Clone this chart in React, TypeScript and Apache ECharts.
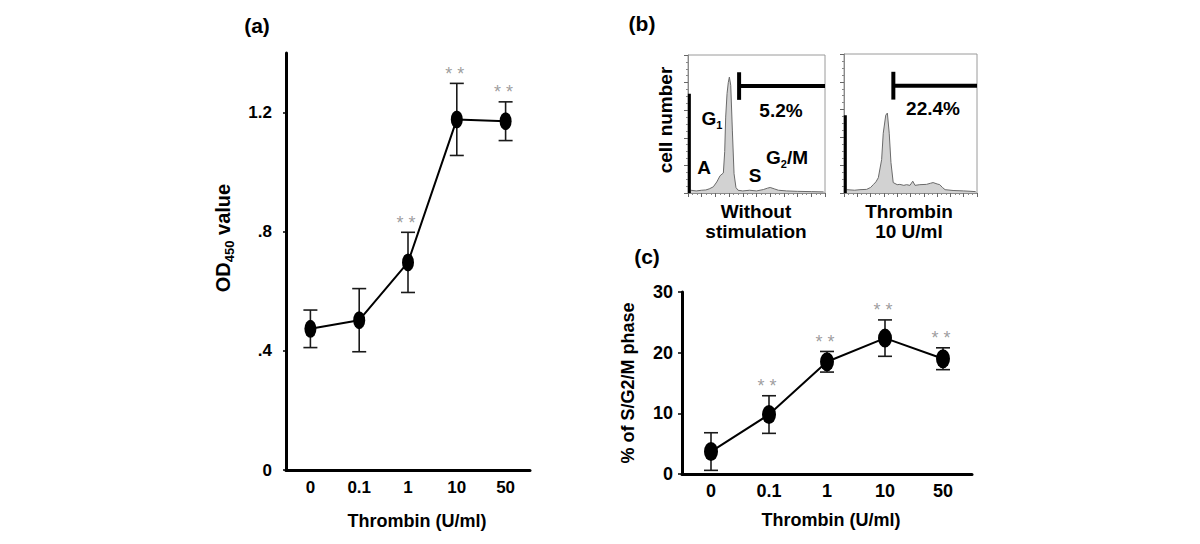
import React, { useEffect, useRef } from "react";
import * as echarts from "echarts";

const FONT = "Liberation Sans, Arial, Helvetica, sans-serif";

// ---- panel (a): cell proliferation (OD450) ----
const categories = ["0", "0.1", "1", "10", "50"];
const odMean = [0.474, 0.503, 0.697, 1.177, 1.171];
const odErr = [0.063, 0.106, 0.101, 0.121, 0.065];
const odSig = ["", "", "* *", "* *", "* *"];
const odTickValues = [0, 0.4, 0.8, 1.2];
const odTickLabels = ["0", ".4", ".8", "1.2"];

// ---- panel (c): % of S/G2/M phase ----
const sPhaseMean = [3.7, 9.8, 18.5, 22.4, 19.0];
const sPhaseErr = [3.1, 3.1, 1.7, 3.0, 1.8];
const sPhaseSig = ["", "* *", "* *", "* *", "* *"];

// ---- panel (b): DNA content histograms [channel, count] ----
const histWithout = [
  [2, 2], [6, 1.5], [10, 2], [13, 2.2], [15.5, 3], [18.5, 4.5], [21, 8], [23.4, 12.5],
  [25.8, 14.5], [26.8, 30], [27.5, 55], [28.5, 72], [29.4, 80], [30.2, 84], [31.2, 78],
  [32.4, 45], [33.6, 14], [35, 4], [36.5, 2], [40, 1.5], [45, 2], [50, 1.5], [55, 2.5],
  [58, 3.5], [60, 4], [63, 3], [66, 2], [72, 1.5], [80, 1.2], [90, 1], [99, 0.8],
];
const histThrombin = [
  [2, 2.4], [8, 2], [12, 2.4], [17, 2.6], [20, 4], [22, 6], [24, 8], [25.8, 11],
  [28.3, 24], [29.5, 43], [31.4, 56], [32.6, 57.5], [34, 43], [35.3, 22], [37, 7.5],
  [40, 6], [42, 6.2], [45, 5.5], [47, 6], [49.6, 5.5], [51.7, 8.5], [53.4, 5.5], [57, 6],
  [62, 6.2], [65, 7], [67, 7.5], [70, 6.5], [72, 6], [74, 4], [76, 2.4], [82, 1.8],
  [90, 1.5], [99, 1],
];
const debrisCounts = [72, 56];
const gateStart = [37.3, 37.1];
const gateLevel = [77.5, 77.2];
const gatePercent = ["5.2%", "22.4%"];

const ellipse = "path://M0 -10A10 10 0 1 1 0 10A10 10 0 1 1 0 -10Z";

function errorRenderer(capHalf: number) {
  return (params: any, api: any) => {
    const x = api.value(0);
    const lo = api.coord([x, api.value(1)]);
    const hi = api.coord([x, api.value(2)]);
    const style = { stroke: "#1a1a1a", lineWidth: 1.6, fill: null };
    return {
      type: "group",
      children: [
        { type: "line", shape: { x1: hi[0], y1: hi[1], x2: lo[0], y2: lo[1] }, style },
        { type: "line", shape: { x1: hi[0] - capHalf, y1: hi[1], x2: hi[0] + capHalf, y2: hi[1] }, style },
        { type: "line", shape: { x1: lo[0] - capHalf, y1: lo[1], x2: lo[0] + capHalf, y2: lo[1] }, style },
      ],
    };
  };
}

function boldText(text: string, x: number, y: number, size: number, extra: any = {}) {
  return {
    type: "text",
    x,
    y,
    ...extra,
    style: {
      text,
      fill: "#000",
      fontSize: size,
      fontWeight: "bold",
      fontFamily: FONT,
      textAlign: "center",
      textVerticalAlign: "middle",
      align: "center",
      verticalAlign: "middle",
      ...(extra.style || {}),
    },
  };
}

function subText(main: string, sub: string, rest: string, x: number, y: number, size: number, subSize: number, rotation = 0) {
  return {
    type: "text",
    x,
    y,
    rotation,
    style: {
      text: `{m|${main}}{s|${sub}}{m|${rest}}`,
      fill: "#000",
      textAlign: "center",
      textVerticalAlign: "middle",
      align: "center",
      verticalAlign: "middle",
      rich: {
        m: { fontSize: size, fontWeight: "bold", fontFamily: FONT, fill: "#000", color: "#000", lineHeight: size + 6, verticalAlign: "middle" },
        s: { fontSize: subSize, fontWeight: "bold", fontFamily: FONT, fill: "#000", color: "#000", verticalAlign: "bottom" },
      },
    },
  };
}

function histAxis(gridIndex: number, interval: number, minorSplit: number) {
  return {
    type: "value",
    gridIndex,
    min: 0,
    max: 100,
    interval,
    axisLine: { show: true, lineStyle: { color: "#8a8a8a", width: 1 } },
    axisTick: { show: true, length: 4, lineStyle: { color: "#666", width: 1 } },
    minorTick: { show: true, splitNumber: minorSplit, length: 2, lineStyle: { color: "#888", width: 1 } },
    axisLabel: { show: false },
    splitLine: { show: false },
  };
}

function histSeries(idx: number, data: number[][]) {
  const axes = { xAxisIndex: idx, yAxisIndex: idx };
  const g = idx - 2;
  return [
    {
      type: "line",
      ...axes,
      data,
      showSymbol: false,
      symbol: "none",
      lineStyle: { color: "#6a6a6a", width: 1 },
      areaStyle: { color: "#d2d2d2", opacity: 1 },
      z: 2,
    },
    {
      type: "line",
      ...axes,
      data: [[1, 0], [1, debrisCounts[g]]],
      symbol: "none",
      lineStyle: { color: "#000", width: 3 },
      z: 3,
    },
    {
      type: "line",
      ...axes,
      data: [[gateStart[g], gateLevel[g] - 10], [gateStart[g], gateLevel[g] + 10]],
      symbol: "none",
      lineStyle: { color: "#000", width: 4 },
      z: 3,
    },
    {
      type: "line",
      ...axes,
      data: [[gateStart[g], gateLevel[g]], [100, gateLevel[g]]],
      symbol: "none",
      lineStyle: { color: "#000", width: 4 },
      z: 3,
    },
  ];
}

function meanPanel(idx: number, mean: number[], err: number[], sig: string[], symbolSize: number[], capHalf: number) {
  const axes = { xAxisIndex: idx, yAxisIndex: idx };
  return [
    {
      type: "custom",
      ...axes,
      renderItem: errorRenderer(capHalf),
      encode: { x: 0, y: [1, 2] },
      data: mean.map((m, i) => [i, m - err[i], m + err[i]]),
      z: 2,
    },
    {
      type: "line",
      ...axes,
      data: mean,
      symbol: ellipse,
      symbolSize,
      showAllSymbol: true,
      lineStyle: { color: "#000", width: 2 },
      itemStyle: { color: "#000" },
      z: 3,
    },
    {
      type: "scatter",
      ...axes,
      data: mean
        .map((m, i) => ({ value: [i, m + err[i]], sig: sig[i] }))
        .filter((d) => d.sig !== ""),
      symbolSize: 1,
      itemStyle: { color: "rgba(0,0,0,0)" },
      label: {
        show: true,
        position: "top",
        distance: 0,
        offset: [-2, 0],
        formatter: (p: any) => p.data.sig,
        color: "#858585",
        fontSize: 18,
        fontFamily: FONT,
      },
      z: 4,
    },
  ];
}

export default function App() {
  const ref = useRef<HTMLDivElement>(null);

  useEffect(() => {
    if (!ref.current) return;
    const chart = echarts.init(ref.current, null, { renderer: "svg" });
    const axisLineStyle = { color: "#000", width: 3 };
    const tickLabel = (size: number) => ({ fontSize: size, fontWeight: "bold", color: "#000", fontFamily: FONT });
    const nameStyle = { fontSize: 18, fontWeight: "bold", color: "#000", fontFamily: FONT };

    const option: any = {
      animation: false,
      backgroundColor: "#fff",
      textStyle: { fontFamily: FONT },
      grid: [
        { left: 286, right: 670, top: 53, bottom: 74 },
        { left: 682, right: 228, top: 292, bottom: 70 },
        { left: 688, top: 55, width: 137, height: 138, show: true, borderColor: "#9a9a9a", borderWidth: 1 },
        { left: 844, top: 54, width: 133, height: 139, show: true, borderColor: "#9a9a9a", borderWidth: 1 },
      ],
      xAxis: [
        {
          type: "category",
          gridIndex: 0,
          data: categories,
          axisLine: { lineStyle: axisLineStyle },
          axisTick: { show: false },
          axisLabel: { ...tickLabel(17), margin: 9 },
          name: "Thrombin (U/ml)",
          nameLocation: "middle",
          nameGap: 42,
          nameTextStyle: { ...nameStyle, padding: [0, 0, 0, 18] },
        },
        {
          type: "category",
          gridIndex: 1,
          data: categories,
          axisLine: { lineStyle: axisLineStyle },
          axisTick: { show: false },
          axisLabel: { ...tickLabel(18), margin: 8 },
          name: "Thrombin (U/ml)",
          nameLocation: "middle",
          nameGap: 37,
          nameTextStyle: { ...nameStyle, padding: [0, 0, 0, 8] },
        },
        histAxis(2, 10, 3),
        histAxis(3, 10, 3),
      ],
      yAxis: [
        {
          type: "value",
          gridIndex: 0,
          min: 0,
          max: 1.4,
          interval: 0.4,
          axisLine: { show: true, lineStyle: axisLineStyle },
          axisTick: { show: true, length: 3, lineStyle: { color: "#000", width: 1.5 } },
          splitLine: { show: false },
          axisLabel: {
            ...tickLabel(17),
            margin: 14,
            showMaxLabel: false,
            formatter: (v: number) => {
              const i = odTickValues.findIndex((t) => Math.abs(t - v) < 1e-6);
              return i >= 0 ? odTickLabels[i] : "";
            },
          },
        },
        {
          type: "value",
          gridIndex: 1,
          min: 0,
          max: 30,
          interval: 10,
          axisLine: { show: true, lineStyle: axisLineStyle },
          axisTick: { show: true, length: 4, lineStyle: { color: "#000", width: 1.5 } },
          splitLine: { show: false },
          axisLabel: { ...tickLabel(18), margin: 9 },
          name: "% of S/G2/M phase",
          nameLocation: "middle",
          nameRotate: 90,
          nameGap: 45,
          nameTextStyle: nameStyle,
        },
        histAxis(2, 20, 4),
        histAxis(3, 20, 4),
      ],
      series: [
        ...meanPanel(0, odMean, odErr, odSig, [12, 18], 7),
        ...meanPanel(1, sPhaseMean, sPhaseErr, sPhaseSig, [14, 19], 7),
        ...histSeries(2, histWithout),
        ...histSeries(3, histThrombin),
      ],
      graphic: [
        boldText("(a)", 257, 25, 21),
        boldText("(b)", 642, 23, 21),
        boldText("(c)", 647, 256, 21),
        subText("OD", "450", " value", 223, 238, 20, 13, Math.PI / 2),
        boldText("cell number", 665, 120, 19, { rotation: Math.PI / 2 }),
        boldText("Without\nstimulation", 756, 221, 19, { style: { lineHeight: 20 } }),
        boldText("Thrombin\n10 U/ml", 909, 221, 19, { style: { lineHeight: 20 } }),
        boldText(gatePercent[0], 781, 110, 19),
        boldText(gatePercent[1], 933, 108, 19),
        subText("G", "1", "", 712, 118, 19, 11),
        boldText("A", 704, 167, 19),
        boldText("S", 755, 175, 19),
        subText("G", "2", "/M", 787, 157, 19, 11),
      ],
    };

    chart.setOption(option);
    return () => chart.dispose();
  }, []);

  return (
    <div
      ref={ref}
      style={{ position: "absolute", left: 0, top: 0, width: 1200, height: 544, background: "#fff" }}
    />
  );
}
